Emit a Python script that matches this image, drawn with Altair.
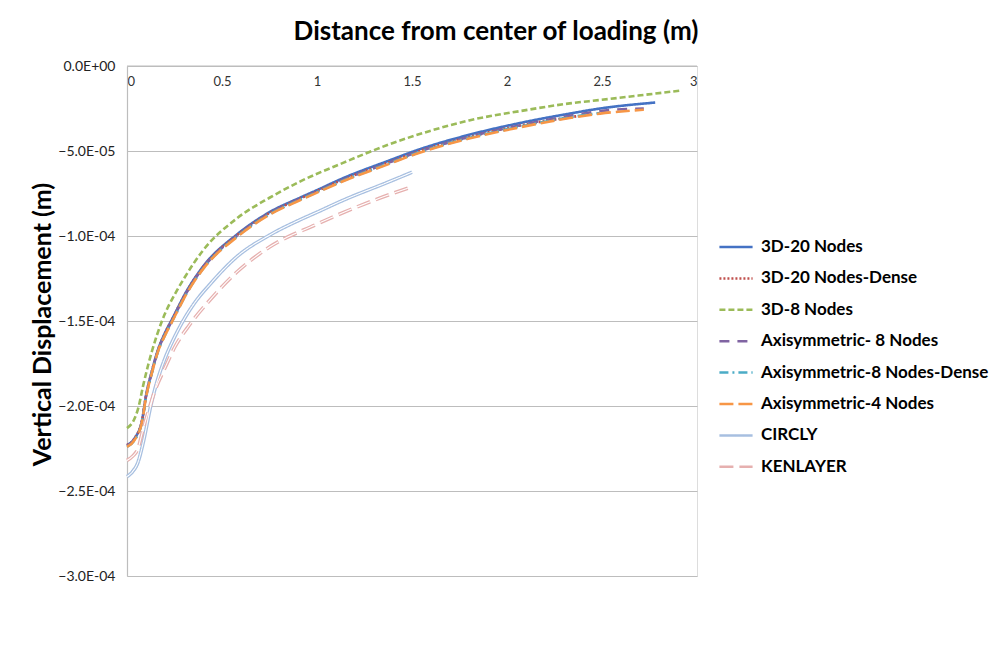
import altair as alt
import pandas as pd

series_names = [
    "3D-20 Nodes",
    "3D-20 Nodes-Dense",
    "3D-8 Nodes",
    "Axisymmetric- 8 Nodes",
    "Axisymmetric-8 Nodes-Dense",
    "Axisymmetric-4 Nodes",
    "CIRCLY",
    "KENLAYER",
]
series_colors = ["#4472C4", "#C0504D", "#9BBB59", "#8064A2", "#4BACC6", "#F79646", "#A7BFE0", "#E6B0AF"]
series_dashes = [[1, 0], [2, 2], [6, 3], [10, 8], [9, 4, 2, 4], [14, 5], [1, 0], [14, 6]]

x_20 = [0, 0.04, 0.08, 0.1, 0.13, 0.163, 0.2, 0.237, 0.316, 0.4, 0.58, 0.75, 0.91, 1.0, 1.137,
        1.37, 1.54, 1.8, 2.07, 2.33, 2.49, 2.78]
y_20 = [-2.23e-4, -2.19e-4, -2.08e-4, -1.94e-4, -1.80e-4, -1.67e-4, -1.57e-4, -1.49e-4, -1.32e-4,
        -1.18e-4, -9.9e-5, -8.6e-5, -7.75e-5, -7.3e-5, -6.6e-5, -5.6e-5, -4.9e-5, -4.05e-5,
        -3.35e-5, -2.8e-5, -2.5e-5, -2.15e-5]

x_20d = [0, 0.04, 0.08, 0.1, 0.13, 0.163, 0.2, 0.237, 0.316, 0.4, 0.58, 0.75, 0.91, 1.0, 1.137,
         1.37, 1.54, 1.8, 2.07, 2.37]
y_20d = [-2.23e-4, -2.19e-4, -2.08e-4, -1.94e-4, -1.80e-4, -1.67e-4, -1.572e-4, -1.492e-4, -1.323e-4,
         -1.183e-4, -9.94e-5, -8.65e-5, -7.8e-5, -7.36e-5, -6.68e-5, -5.7e-5, -5.0e-5, -4.18e-5,
         -3.5e-5, -2.95e-5]

x_8 = [0, 0.035, 0.06, 0.085, 0.11, 0.132, 0.184, 0.263, 0.3, 0.4, 0.58, 0.75, 0.91, 1.137, 1.37,
       1.6, 1.8, 2.07, 2.33, 2.49, 2.91]
y_8 = [-2.13e-4, -2.085e-4, -2.01e-4, -1.88e-4, -1.765e-4, -1.675e-4, -1.50e-4, -1.32e-4, -1.25e-4,
       -1.085e-4, -8.95e-5, -7.75e-5, -6.8e-5, -5.7e-5, -4.65e-5, -3.8e-5, -3.2e-5, -2.65e-5,
       -2.2e-5, -2.0e-5, -1.45e-5]

x_ax8 = [0, 0.04, 0.08, 0.1, 0.13, 0.163, 0.2, 0.237, 0.316, 0.4, 0.58, 0.75, 0.91, 1.0, 1.137,
         1.37, 1.54, 1.8, 2.07, 2.33, 2.49, 2.72]
y_ax8 = [-2.235e-4, -2.195e-4, -2.085e-4, -1.945e-4, -1.805e-4, -1.675e-4, -1.578e-4, -1.498e-4,
         -1.328e-4, -1.188e-4, -9.98e-5, -8.68e-5, -7.83e-5, -7.38e-5, -6.7e-5, -5.72e-5, -5.02e-5,
         -4.17e-5, -3.48e-5, -2.93e-5, -2.65e-5, -2.5e-5]

x_ax8d = [0, 0.04, 0.08, 0.1, 0.13, 0.163, 0.2, 0.237, 0.316, 0.4, 0.58, 0.75, 0.91, 1.0, 1.137,
          1.37, 1.54, 1.8, 2.07, 2.33, 2.49]
y_ax8d = [-2.24e-4, -2.20e-4, -2.09e-4, -1.95e-4, -1.81e-4, -1.68e-4, -1.583e-4, -1.503e-4,
          -1.333e-4, -1.193e-4, -1.002e-4, -8.72e-5, -7.87e-5, -7.42e-5, -6.75e-5, -5.77e-5,
          -5.07e-5, -4.23e-5, -3.56e-5, -3.02e-5, -2.76e-5]

x_ax4 = [0, 0.04, 0.08, 0.1, 0.13, 0.163, 0.2, 0.237, 0.316, 0.4, 0.58, 0.75, 0.91, 1.0, 1.137,
         1.37, 1.54, 1.8, 2.07, 2.33, 2.49, 2.72]
y_ax4 = [-2.24e-4, -2.20e-4, -2.09e-4, -1.95e-4, -1.81e-4, -1.68e-4, -1.585e-4, -1.505e-4,
         -1.335e-4, -1.195e-4, -1.005e-4, -8.75e-5, -7.9e-5, -7.45e-5, -6.78e-5, -5.8e-5, -5.1e-5,
         -4.27e-5, -3.6e-5, -3.06e-5, -2.8e-5, -2.57e-5]

x_circly = [0, 0.03, 0.058, 0.079, 0.095, 0.121, 0.147, 0.174, 0.2, 0.25, 0.3, 0.358, 0.44, 0.58,
            0.75, 0.91, 1.0, 1.137, 1.37, 1.5]
y_circly = [-2.415e-4, -2.385e-4, -2.33e-4, -2.245e-4, -2.165e-4, -2.02e-4, -1.90e-4, -1.80e-4,
            -1.72e-4, -1.595e-4, -1.49e-4, -1.39e-4, -1.28e-4, -1.12e-4, -9.95e-5, -9.05e-5,
            -8.6e-5, -7.9e-5, -6.85e-5, -6.25e-5]

x_ken = [0, 0.03, 0.058, 0.084, 0.11, 0.147, 0.2, 0.253, 0.321, 0.358, 0.426, 0.58, 0.75, 1.0,
         1.08, 1.3, 1.5]
y_ken = [-2.32e-4, -2.295e-4, -2.25e-4, -2.14e-4, -2.04e-4, -1.91e-4, -1.775e-4, -1.65e-4,
         -1.535e-4, -1.48e-4, -1.39e-4, -1.21e-4, -1.065e-4, -9.3e-5, -8.9e-5, -7.9e-5, -7.1e-5]

y_ticks = [0, -5e-5, -1e-4, -1.5e-4, -2e-4, -2.5e-4, -3e-4]
x_ticks = [0, 0.5, 1, 1.5, 2, 2.5, 3]

all_x = [x_20, x_20d, x_8, x_ax8, x_ax8d, x_ax4, x_circly, x_ken]
all_y = [y_20, y_20d, y_8, y_ax8, y_ax8d, y_ax4, y_circly, y_ken]

rows = []
for i, (name, xs, ys) in enumerate(zip(series_names, all_x, all_y)):
    for j, (xv, yv) in enumerate(zip(xs, ys)):
        rows.append({"series": name, "x": xv, "y": yv, "order": i, "idx": j})
df = pd.DataFrame(rows)

FONT = "Lato"

xscale = alt.Scale(domain=[0, 3], nice=False, zero=False)
yscale = alt.Scale(domain=[-3e-4, 0], nice=False)
color_scale = alt.Scale(domain=series_names, range=series_colors)
dash_scale = alt.Scale(domain=series_names, range=series_dashes)

legend = alt.Legend(
    title=None,
    orient="none",
    legendX=591,
    legendY=163,
    symbolType="stroke",
    symbolSize=1100,
    symbolStrokeWidth=2.5,
    labelFont=FONT,
    labelFontSize=17,
    labelFontWeight="bold",
    labelColor="#000000",
    labelOffset=7,
    rowPadding=5.4,
    labelLimit=400,
)

base = alt.Chart(df)

lines = base.mark_line(interpolate="monotone").encode(
    x=alt.X(
        "x:Q",
        scale=xscale,
        axis=alt.Axis(
            orient="bottom",
            offset=-510,
            values=x_ticks,
            title=None,
            grid=False,
            ticks=False,
            domain=False,
            labelFont=FONT,
            labelFontSize=13,
            labelColor="#333333",
            labelPadding=9,
            labelExpr="datum.value == 0 ? '0' : format(datum.value, '')",
        ),
    ),
    y=alt.Y(
        "y:Q",
        scale=yscale,
        axis=alt.Axis(
            values=y_ticks,
            title="Vertical Displacement (m)",
            titleFont=FONT,
            titleFontSize=25,
            titleFontWeight="bold",
            titleColor="#000000",
            titleAngle=-90,
            titleX=-85,
            titleY=258,
            titleAlign="center",
            titleBaseline="middle",
            grid=True,
            gridColor="#BDBDBD",
            gridWidth=1.2,
            ticks=False,
            domain=True,
            domainColor="#BDBDBD",
            domainWidth=1.2,
            labelFont=FONT,
            labelFontSize=14,
            labelColor="#222222",
            labelPadding=12,
            labelExpr="replace(replace(format(datum.value, '.1e'), 'e-', 'E-0'), 'e+', 'E+0')",
        ),
    ),
    color=alt.Color("series:N", scale=color_scale, legend=legend, sort=series_names),
    strokeDash=alt.StrokeDash("series:N", scale=dash_scale, legend=legend, sort=series_names),
    strokeWidth=alt.condition(
        "datum.series == 'CIRCLY' || datum.series == 'KENLAYER'",
        alt.value(3.6),
        alt.value(2.6),
    ),
    order="idx:Q",
)

inner = base.transform_filter(
    "datum.series == 'CIRCLY' || datum.series == 'KENLAYER'"
).mark_line(interpolate="monotone", color="white", strokeWidth=1.1).encode(
    x=alt.X("x:Q", scale=xscale),
    y=alt.Y("y:Q", scale=yscale),
    detail="series:N",
    strokeDash=alt.StrokeDash("series:N", scale=dash_scale, legend=None),
    order="idx:Q",
)

top_line = alt.Chart(pd.DataFrame({"y0": [0]})).mark_rule(color="#BDBDBD", strokeWidth=1.2).encode(
    y=alt.Y("y0:Q", scale=yscale),
)

chart = alt.layer(top_line, lines, inner).properties(
    width=570,
    height=510,
    padding={"left": 119, "top": 58, "right": 294, "bottom": 76},
    autosize=alt.AutoSizeParams(type="none"),
    title=alt.Title(
        "Distance from center of loading (m)",
        font=FONT,
        fontSize=26,
        fontWeight="bold",
        color="#000000",
        anchor="middle",
        dx=84,
        offset=14,
    ),
).configure_view(stroke=None).configure(background="white")

chart.save("out.html", embed_options={"renderer": "svg", "actions": False})
